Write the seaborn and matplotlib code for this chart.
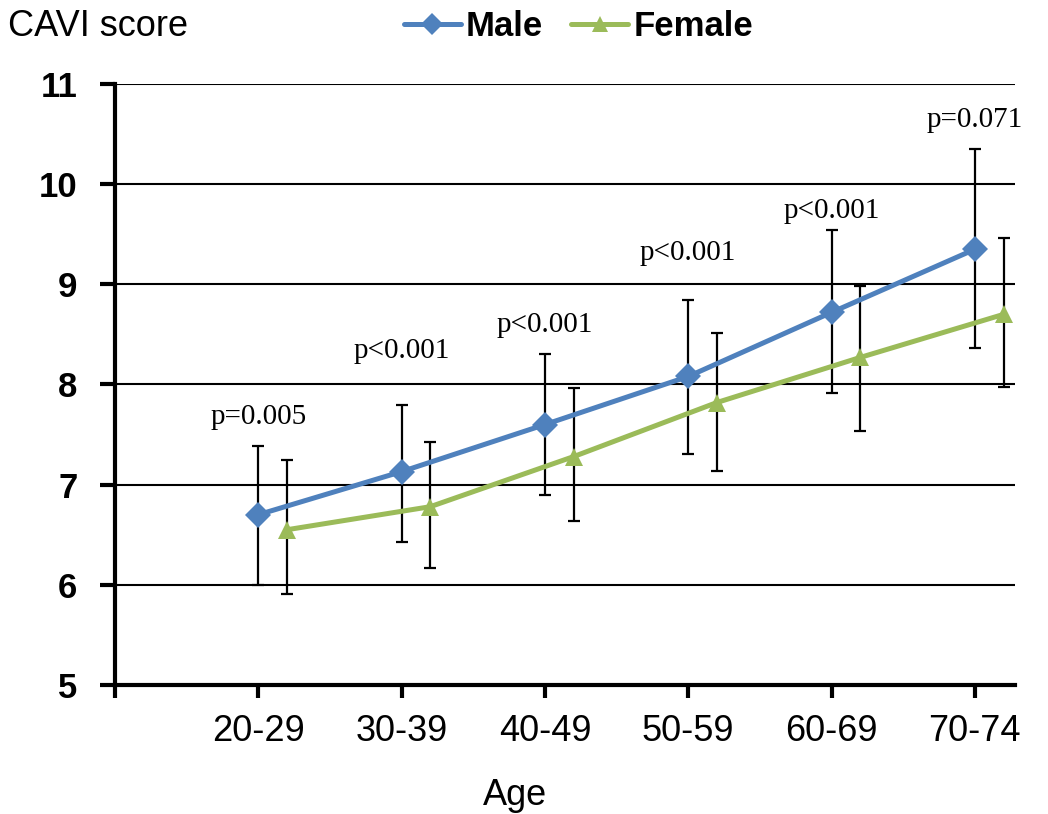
import numpy as np
import pandas as pd
import matplotlib.pyplot as plt
import seaborn as sns

# Data
ages = ["20-29", "30-39", "40-49", "50-59", "60-69", "70-74"]
male_mean = [6.70, 7.13, 7.60, 8.08, 8.72, 9.35]
male_upper = [7.39, 7.80, 8.30, 8.84, 9.54, 10.35]
male_lower = [6.00, 6.43, 6.90, 7.31, 7.92, 8.36]
female_mean = [6.55, 6.78, 7.28, 7.82, 8.27, 8.70]
female_upper = [7.25, 7.43, 7.96, 8.51, 8.98, 9.46]
female_lower = [5.91, 6.17, 6.64, 7.14, 7.54, 7.97]
p_labels = ["p=0.005", "p<0.001", "p<0.001", "p<0.001", "p<0.001", "p=0.071"]
p_label_y = [7.68, 8.33, 8.59, 9.31, 9.73, 10.64]

sns.set_style("white")
plt.rcParams['font.family'] = ['Liberation Sans', 'DejaVu Sans']
plt.rcParams['text.color'] = 'black'
plt.rcParams['xtick.color'] = 'black'
plt.rcParams['ytick.color'] = 'black'

blue = "#4F81BD"
green = "#9BBB59"
offset = 0.2  # female points sit a bit right of the category

pos = np.arange(1, len(ages) + 1)
df = pd.DataFrame({
    "x": np.concatenate([pos, pos + offset]),
    "score": male_mean + female_mean,
    "sex": ["Male"] * len(ages) + ["Female"] * len(ages),
})

fig = plt.figure(figsize=(10.48, 8.14), dpi=100)
ax = fig.add_axes([0.1097, 0.1585, 0.8588, 0.7383])

# error bars first so the markers sit on top
ax.errorbar(pos, male_mean,
            yerr=[np.array(male_mean) - male_lower, np.array(male_upper) - male_mean],
            fmt="none", ecolor="black", elinewidth=1.6, capsize=4, capthick=1.6, zorder=2)
ax.errorbar(pos + offset, female_mean,
            yerr=[np.array(female_mean) - female_lower, np.array(female_upper) - female_mean],
            fmt="none", ecolor="black", elinewidth=1.6, capsize=4, capthick=1.6, zorder=2)

sns.lineplot(data=df, x="x", y="score", hue="sex", style="sex",
             palette={"Male": blue, "Female": green},
             markers={"Male": "D", "Female": "^"}, dashes=False,
             markersize=13, linewidth=3.6, markeredgewidth=0,
             ax=ax, legend=False, zorder=3)

for i, (lab, yy) in enumerate(zip(p_labels, p_label_y)):
    ax.text(pos[i], yy, lab, ha="center", va="center",
            fontsize=21, family=["Liberation Serif", "DejaVu Serif"])

ax.set_xlim(0, 6.28)
ax.set_ylim(5, 11)
ax.set_yticks(range(5, 12))
ax.set_xticks(range(0, 7))
ax.set_xticklabels([""] + ages)
ax.yaxis.grid(True, color="black", linewidth=1.5)
ax.set_axisbelow(True)
for s in ["top", "right"]:
    ax.spines[s].set_visible(False)
for s in ["left", "bottom"]:
    ax.spines[s].set_linewidth(3)
    ax.spines[s].set_color("black")
ax.tick_params(axis="y", direction="out", length=11, width=3, pad=16, labelsize=25, left=True)
ax.tick_params(axis="x", direction="out", length=9, width=3, pad=12, labelsize=26, bottom=True)
for t in ax.get_yticklabels():
    t.set_fontweight("bold")
ax.set_xlabel("")
ax.set_ylabel("")

fig.text(0.008, 0.967, "CAVI score", fontsize=26, va="center", ha="left")
fig.text(0.491, 0.023, "Age", fontsize=26, va="center", ha="center")

handles = [
    plt.Line2D([], [], color=blue, marker="D", markersize=11, linewidth=3.6, markeredgewidth=0),
    plt.Line2D([], [], color=green, marker="^", markersize=11, linewidth=3.6, markeredgewidth=0),
]
fig.legend(handles, ["Male", "Female"], loc="center", bbox_to_anchor=(0.552, 0.967),
           ncol=2, frameon=False, handlelength=1.65, handletextpad=0.15, columnspacing=0.8,
           prop={"size": 25, "weight": "bold"})

fig.savefig("out.png", dpi=100)
